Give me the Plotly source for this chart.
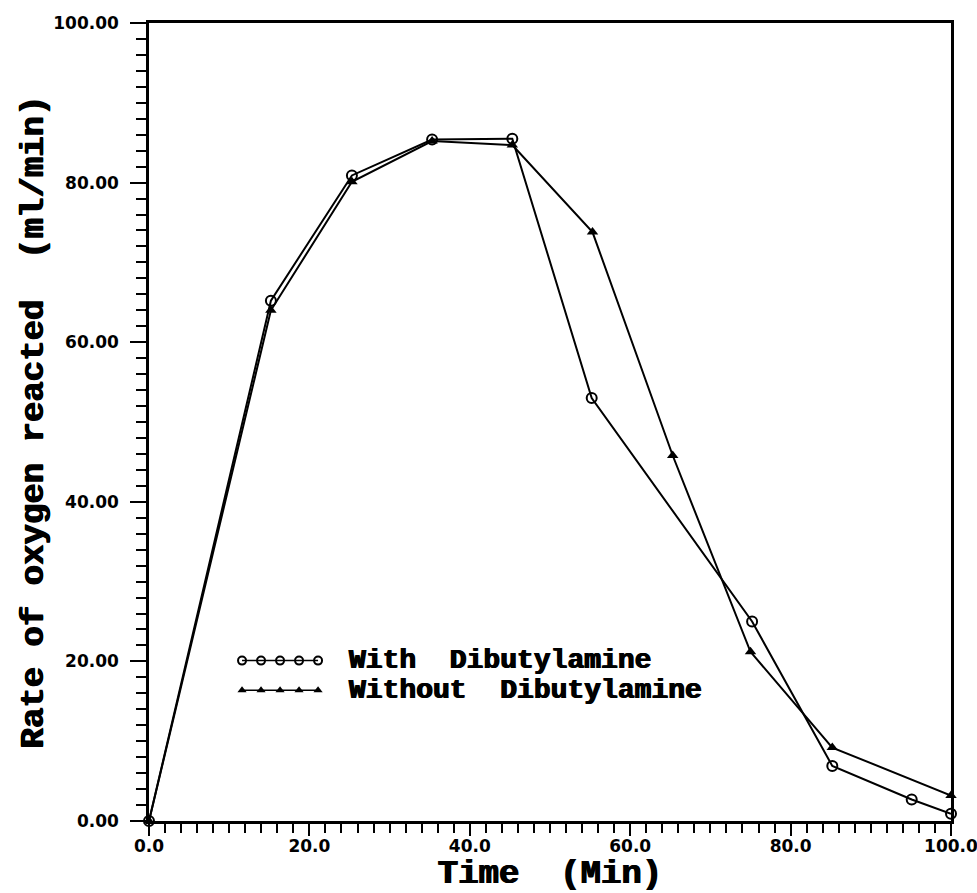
import plotly.graph_objects as go

# ---- data ----
time_with = [0, 15.2, 25.3, 35.3, 45.3, 55.2, 75.2, 85.2, 95.1, 100]
rate_with = [0, 65.2, 80.9, 85.4, 85.5, 53.0, 25.0, 6.9, 2.7, 0.9]
time_without = [0, 15.2, 25.3, 35.3, 45.3, 55.3, 65.3, 75.0, 85.2, 100]
rate_without = [0, 64.0, 80.1, 85.2, 84.7, 73.8, 45.8, 21.2, 9.2, 3.2]
series_names = ["With\u00a0\u00a0Dibutylamine", "Without\u00a0\u00a0Dibutylamine"]
x_ticks = [0, 20, 40, 60, 80, 100]
x_tick_labels = ["0.0", "20.0", "40.0", "60.0", "80.0", "100.0"]
y_ticks = [0, 20, 40, 60, 80, 100]
y_tick_labels = ["0.00", "20.00", "40.00", "60.00", "80.00", "100.00"]

BOLDEN = "0.7px 0 0 black, -0.7px 0 0 black"
TITLE_FONT = dict(family="Liberation Mono", size=34, color="black", weight="bold",
                  shadow=BOLDEN)
LEGEND_FONT = dict(family="Liberation Mono", size=28, color="black", weight="bold",
                   shadow=BOLDEN)
YTICK_FONT = dict(family="DejaVu Sans", size=17, color="black", weight="bold")
XTICK_FONT = dict(family="DejaVu Sans", size=17, color="black", weight="bold")

fig = go.Figure()
fig.add_trace(go.Scatter(
    x=time_with, y=rate_with, mode="lines+markers", name=series_names[0],
    line=dict(color="black", width=2),
    marker=dict(symbol="circle-open", size=10, color="black", line=dict(width=2)),
    cliponaxis=False, showlegend=False))
fig.add_trace(go.Scatter(
    x=time_without, y=rate_without, mode="lines+markers", name=series_names[1],
    line=dict(color="black", width=2),
    marker=dict(symbol="triangle-up", size=10, color="black"),
    cliponaxis=False, showlegend=False))

# ---- hand-drawn style legend (layout decoration) ----
leg_x0, leg_step, leg_n = 11.6, 2.37, 5
leg_rows = [20.1, 16.4]
leg_text_x = 24.7
leg_syms = [dict(symbol="circle-open", size=8, color="black", line=dict(width=2)),
            dict(symbol="triangle-up", size=8, color="black")]
for row_y, sym, name in zip(leg_rows, leg_syms, series_names):
    xs = [leg_x0 + i * leg_step for i in range(leg_n)]
    fig.add_trace(go.Scatter(x=xs, y=[row_y] * leg_n, mode="lines+markers",
                             line=dict(color="black", width=1.5), marker=sym,
                             showlegend=False, hoverinfo="skip"))
    fig.add_annotation(x=leg_text_x, y=row_y, xref="x", yref="y", text=name,
                       showarrow=False, xanchor="left", yanchor="middle",
                       font=LEGEND_FONT)

axis_common = dict(
    showgrid=False, zeroline=False, showline=True, linecolor="black",
    linewidth=2.5, mirror=True, ticks="outside", tickcolor="black",
    tickwidth=2, range=[0, 100], automargin=False,
    ticklabeloverflow="allow",
)
fig.update_xaxes(**axis_common, tickvals=x_ticks, ticktext=x_tick_labels,
                 tickfont=XTICK_FONT, ticklen=12, ticklabelstandoff=-4,
                 minor=dict(dtick=2, ticks="outside", ticklen=9,
                            tickwidth=2, tickcolor="black"),
                 title=dict(text="Time\u00a0\u00a0(Min)", font=TITLE_FONT, standoff=0))
fig.update_yaxes(**axis_common, tickvals=y_ticks, ticktext=y_tick_labels,
                 tickfont=YTICK_FONT, ticklen=16, ticklabelstandoff=8,
                 minor=dict(dtick=2, ticks="outside", ticklen=10,
                            tickwidth=2, tickcolor="black"),
                 title=dict(text="Rate\u00a0of\u00a0oxygen\u00a0reacted\u00a0\u00a0(ml/min)",
                            font=TITLE_FONT, standoff=0))

fig.update_layout(
    width=977, height=893, plot_bgcolor="white", paper_bgcolor="white",
    margin=dict(l=149, r=26, t=23, b=72),
)
fig.write_html("out.html",
               config={"displayModeBar": False},
               post_script="document.body.style.margin='0';"
                           "document.body.style.overflow='hidden';")
